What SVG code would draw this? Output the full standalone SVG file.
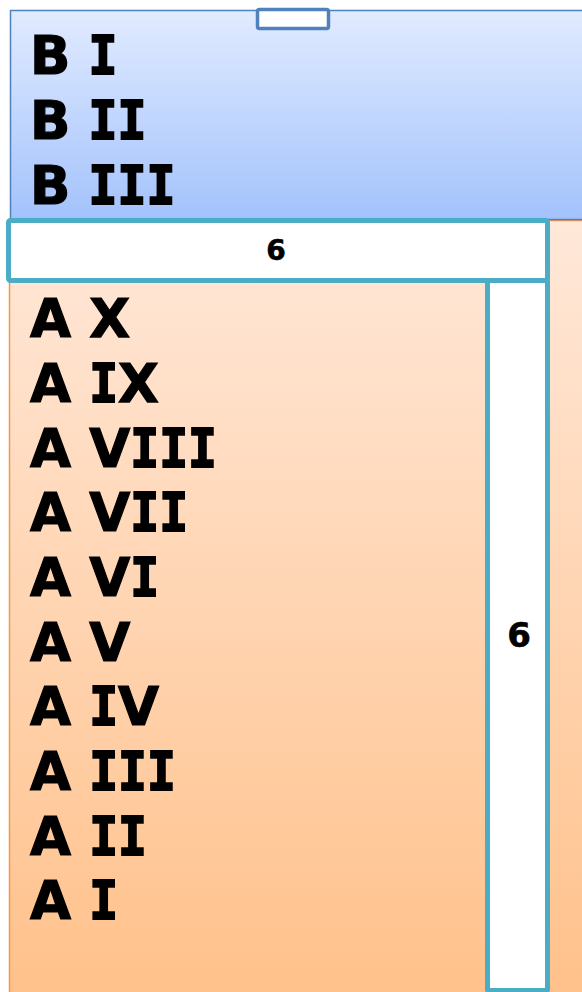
<svg xmlns="http://www.w3.org/2000/svg" width="582" height="992" viewBox="0 0 582 992">
<defs>
<linearGradient id="gb" x1="0" y1="0" x2="0" y2="1"><stop offset="0" stop-color="#e1ebff"/><stop offset="1" stop-color="#a3c2fc"/></linearGradient>
<linearGradient id="go" x1="0" y1="0" x2="0" y2="1"><stop offset="0" stop-color="#ffe8d9"/><stop offset="1" stop-color="#ffc18a"/></linearGradient>
<style>
.big{font-family:"DejaVu Sans",sans-serif;font-weight:bold;font-size:53px;fill:#000;stroke:#000;stroke-width:1.2}
.i{font-family:"DejaVu Sans Mono",monospace;stroke-width:2}
.num{font-family:"DejaVu Sans",sans-serif;font-weight:bold;fill:#000;text-anchor:middle;stroke:#000;stroke-width:0.6}
.bar{fill:#fff;stroke:#4bacc6;stroke-width:5}
</style>
</defs>
<g id="orange-box">
<rect x="9.5" y="220.5" width="580" height="780" fill="url(#go)" stroke="#f79646" stroke-width="1.5"/>
<text class="big" x="30" y="337">A <tspan x="89.2">X</tspan></text>
<text class="big" x="30" y="402">A <tspan x="89.2" class="i" textLength="28.9" lengthAdjust="spacingAndGlyphs">I</tspan><tspan x="118.1">X</tspan></text>
<text class="big" x="30" y="467">A <tspan x="89.2">V</tspan><tspan x="130.3" class="i" textLength="28.9" lengthAdjust="spacingAndGlyphs">I</tspan><tspan x="159.2" class="i" textLength="28.9" lengthAdjust="spacingAndGlyphs">I</tspan><tspan x="188.1" class="i" textLength="28.9" lengthAdjust="spacingAndGlyphs">I</tspan></text>
<text class="big" x="30" y="531">A <tspan x="89.2">V</tspan><tspan x="130.3" class="i" textLength="28.9" lengthAdjust="spacingAndGlyphs">I</tspan><tspan x="159.2" class="i" textLength="28.9" lengthAdjust="spacingAndGlyphs">I</tspan></text>
<text class="big" x="30" y="596">A <tspan x="89.2">V</tspan><tspan x="130.3" class="i" textLength="28.9" lengthAdjust="spacingAndGlyphs">I</tspan></text>
<text class="big" x="30" y="661">A <tspan x="89.2">V</tspan></text>
<text class="big" x="30" y="725">A <tspan x="89.2" class="i" textLength="28.9" lengthAdjust="spacingAndGlyphs">I</tspan><tspan x="118.1">V</tspan></text>
<text class="big" x="30" y="790">A <tspan x="89.2" class="i" textLength="28.9" lengthAdjust="spacingAndGlyphs">I</tspan><tspan x="118.1" class="i" textLength="28.9" lengthAdjust="spacingAndGlyphs">I</tspan><tspan x="147" class="i" textLength="28.9" lengthAdjust="spacingAndGlyphs">I</tspan></text>
<text class="big" x="30" y="855">A <tspan x="89.2" class="i" textLength="28.9" lengthAdjust="spacingAndGlyphs">I</tspan><tspan x="118.1" class="i" textLength="28.9" lengthAdjust="spacingAndGlyphs">I</tspan></text>
<text class="big" x="30" y="919">A <tspan x="89.2" class="i" textLength="28.9" lengthAdjust="spacingAndGlyphs">I</tspan></text>
</g>
<g id="blue-box">
<rect x="10.5" y="10.5" width="580" height="209" fill="url(#gb)" stroke="#4f81bd" stroke-width="1.5"/>
<rect x="257.5" y="9.5" width="71" height="19" rx="2" fill="#fff" stroke="#4f81bd" stroke-width="3.5"/>
<text class="big" x="30" y="74">B <tspan x="88.6" class="i" textLength="28.9" lengthAdjust="spacingAndGlyphs">I</tspan></text>
<text class="big" x="30" y="139">B <tspan x="88.6" class="i" textLength="28.9" lengthAdjust="spacingAndGlyphs">I</tspan><tspan x="117.5" class="i" textLength="28.9" lengthAdjust="spacingAndGlyphs">I</tspan></text>
<text class="big" x="30" y="204">B <tspan x="88.6" class="i" textLength="28.9" lengthAdjust="spacingAndGlyphs">I</tspan><tspan x="117.5" class="i" textLength="28.9" lengthAdjust="spacingAndGlyphs">I</tspan><tspan x="146.4" class="i" textLength="28.9" lengthAdjust="spacingAndGlyphs">I</tspan></text>
</g>
<g id="vertical-bar">
<rect class="bar" x="487.5" y="280.5" width="60" height="710" rx="1"/>
<text class="num" x="519" y="647" font-size="34">6</text>
</g>
<g id="horizontal-bar">
<rect class="bar" x="8.5" y="220.5" width="539" height="60" rx="2"/>
<text class="num" x="276" y="260" font-size="28">6</text>
</g>
<g id="connectors"/>
</svg>
